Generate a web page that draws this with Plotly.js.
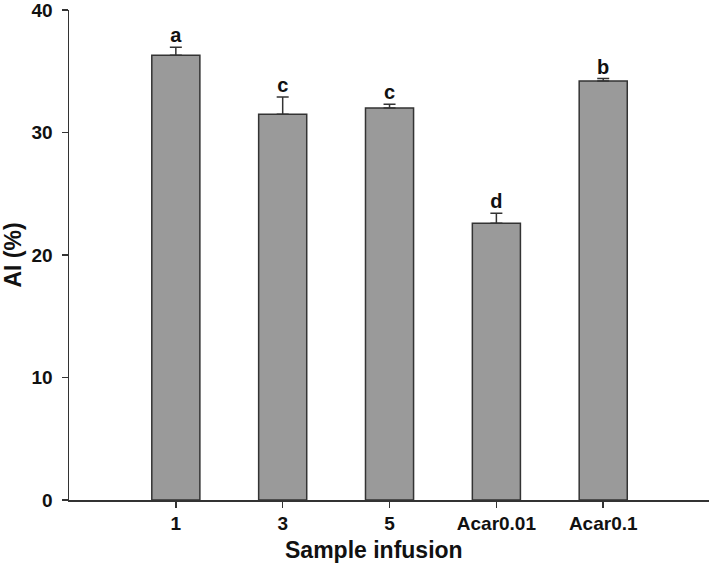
<!DOCTYPE html>
<html>
<head>
<meta charset="utf-8">
<script src="https://cdn.plot.ly/plotly-3.0.1.min.js"></script>
<style>html,body{margin:0;padding:0;background:#fff;}#chart{width:709px;height:566px;}</style>
</head>
<body>
<div id="chart"></div>
<script>
const categories = ["1", "3", "5", "Acar0.01", "Acar0.1"];
const values = [36.3, 31.5, 32.0, 22.6, 34.2];
const errors = [0.65, 1.4, 0.3, 0.8, 0.2];
const letters = ["a", "c", "c", "d", "b"];
const yTicks = [0, 10, 20, 30, 40];
const xTitle = "Sample infusion";
const yTitle = "AI (%)";

const fontFam = "Liberation Sans, Arial, sans-serif";

const bars = {
  type: "bar",
  x: categories,
  y: values,
  width: 0.45,
  marker: {color: "#9a9a9a", line: {color: "#333333", width: 1.5}},
  error_y: {type: "data", array: errors, arrayminus: errors.map(() => 0), symmetric: false,
            color: "#333333", thickness: 1.5, width: 6},
  hoverinfo: "skip",
  showlegend: false
};

const labels = {
  type: "scatter",
  mode: "text",
  x: categories,
  y: values.map((v, i) => v + errors[i]),
  text: letters,
  textposition: "top center",
  textfont: {family: fontFam, size: 20, color: "#111111", weight: "bold"},
  cliponaxis: false,
  hoverinfo: "skip",
  showlegend: false
};

const layout = {
  width: 709, height: 566,
  margin: {l: 69, r: 0, t: 10, b: 66},
  paper_bgcolor: "#ffffff",
  plot_bgcolor: "#ffffff",
  font: {family: fontFam, color: "#111111"},
  xaxis: {
    type: "category",
    range: [-1.0, 4.99],
    showline: true, linecolor: "#333333", linewidth: 1.5,
    ticks: "outside", ticklen: 6, tickcolor: "#333333", tickwidth: 1.5,
    tickfont: {family: fontFam, size: 19, color: "#111111", weight: "bold"},
    showgrid: false, zeroline: false
  },
  yaxis: {
    range: [0, 40],
    tickvals: yTicks,
    ticktext: yTicks.map(String),
    showline: true, linecolor: "#333333", linewidth: 1.5,
    ticks: "outside", ticklen: 6, tickcolor: "#333333", tickwidth: 1.5,
    tickfont: {family: fontFam, size: 19, color: "#111111", weight: "bold"},
    ticklabelstandoff: 5,
    ticklabeloverflow: "allow",
    showgrid: false, zeroline: false,
    title: {text: yTitle, font: {family: fontFam, size: 23, color: "#111111", weight: "bold"}, standoff: 12}
  },
  annotations: [{
    text: xTitle, xref: "paper", yref: "paper", x: 0.477, y: 0, yanchor: "middle", xanchor: "center",
    yshift: -50, showarrow: false,
    font: {family: fontFam, size: 23, color: "#111111", weight: "bold"}
  }]
};

Plotly.newPlot("chart", [bars, labels], layout, {displayModeBar: false, staticPlot: true});
</script>
</body>
</html>
